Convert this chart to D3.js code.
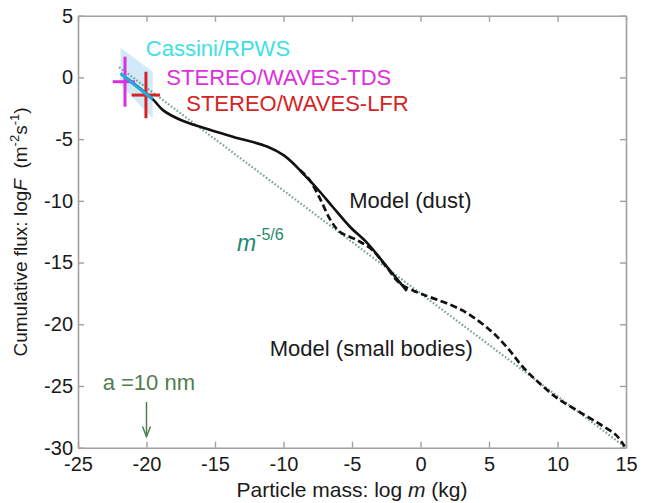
<!DOCTYPE html>
<html>
<head>
<meta charset="utf-8">
<script src="https://cdn.jsdelivr.net/npm/d3@7.9.0/dist/d3.min.js"></script>
<style>
  body { margin: 0; background: #fff; }
  svg { display: block; font-family: "Liberation Sans", Arial, sans-serif; }
</style>
</head>
<body>
<svg id="chart" width="652" height="503"></svg>
<script>
// axis ticks
const xTicks = [-25, -20, -15, -10, -5, 0, 5, 10, 15];
const yTicks = [5, 0, -5, -10, -15, -20, -25, -30];

// m^-5/6 reference line (dotted)
const slopeX = [-22.0, 15.0];
const slopeY = [0.83, -30.0];

// Model (dust), solid
const dustX = [-21.5, -19.6, -18.8, -17.5, -15.8, -13.7, -11.2, -10.0, -9.3, -8.6, -7.55, -6.4, -5.15, -3.9, -2.7, -1.0];
const dustY = [0.0, -1.7, -2.65, -3.45, -4.1, -4.8, -5.6, -6.3, -6.95, -7.76, -9.0, -10.5, -12.1, -13.4, -15.0, -17.3];

// Model (small bodies), dashed
const smallX = [-8.8, -8.1, -7.3, -6.6, -5.9, -4.6, -3.5, -2.45, -1.5, -0.25, 0.7, 3.1, 5.1, 6.3, 7.5, 8.7, 10.0, 11.6, 13.1, 14.3, 14.9];
const smallY = [-7.5, -8.3, -9.9, -11.5, -12.5, -13.2, -14.0, -15.4, -16.7, -17.4, -17.8, -18.9, -20.5, -21.85, -23.5, -24.8, -26.0, -27.1, -28.1, -29.0, -29.9];

// Cassini/RPWS line and its uncertainty band
const cassX = [-21.9, -19.55];
const cassY = [0.32, -1.76];
const bandX = [-21.9, -19.55, -19.55, -21.9];
const bandY = [2.4, 0.45, -3.3, -0.6];

// STEREO crosses: centre and extents
const tds = { x: -21.57, y: -0.35, x0: -22.47, x1: -20.84, y0: -2.37, y1: 1.68 };
const lfr = { x: -20.04, y: -1.43, x0: -21.08, x1: -19.01, y0: -3.31, y1: 0.46 };

const svg = d3.select('#chart');
const margin = { left: 78, right: 26, top: 15.7, bottom: 55.3 };
const W = 652, H = 503;

const x = d3.scaleLinear().domain([-25, 15]).range([margin.left, W - margin.right]);
const y = d3.scaleLinear().domain([-30, 5]).range([H - margin.bottom, margin.top]);

const axisColor = '#a0a0a0';
const fmt = d => String(d);

// axes (MATLAB style box, ticks inside)
function styleAxis(g) {
  g.selectAll('.domain').attr('stroke', axisColor).attr('stroke-width', 1.6);
  g.selectAll('.tick line').attr('stroke', axisColor).attr('stroke-width', 1.4);
  g.selectAll('.tick text').attr('fill', '#1a1a1a').attr('font-size', 20)
    .attr('font-family', '"Liberation Sans", Arial, sans-serif');
}

svg.append('g')
  .attr('transform', `translate(0,${y(-30)})`)
  .call(d3.axisBottom(x).tickValues(xTicks).tickSizeInner(-6).tickSizeOuter(0).tickPadding(9)
    .tickFormat(fmt))
  .call(styleAxis);

svg.append('g')
  .attr('transform', `translate(0,${y(5)})`)
  .call(d3.axisTop(x).tickValues(xTicks).tickSizeInner(-6).tickSizeOuter(0).tickFormat(''))
  .call(styleAxis);

svg.append('g')
  .attr('transform', `translate(${x(-25)},0)`)
  .call(d3.axisLeft(y).tickValues(yTicks).tickSizeInner(-6).tickSizeOuter(0).tickPadding(5)
    .tickFormat(fmt))
  .call(styleAxis);

svg.append('g')
  .attr('transform', `translate(${x(15)},0)`)
  .call(d3.axisRight(y).tickValues(yTicks).tickSizeInner(-6).tickSizeOuter(0).tickFormat(''))
  .call(styleAxis);

// axis titles
const xt = svg.append('text')
  .attr('x', 352).attr('y', 497)
  .attr('text-anchor', 'middle').attr('font-size', 21).attr('fill', '#1a1a1a');
xt.append('tspan').text('Particle mass: log ');
xt.append('tspan').attr('font-style', 'italic').text('m');
xt.append('tspan').text(' (kg)');

const yt = svg.append('text')
  .attr('transform', 'translate(27,232) rotate(-90)')
  .attr('text-anchor', 'middle').attr('font-size', 19).attr('fill', '#1a1a1a');
yt.append('tspan').text('Cumulative flux: log');
yt.append('tspan').attr('font-style', 'italic').text('F');
yt.append('tspan').text('\u00a0 (m');
yt.append('tspan').attr('font-size', 13).attr('dy', -8).text('-2');
yt.append('tspan').attr('dy', 8).text('s');
yt.append('tspan').attr('font-size', 13).attr('dy', -8).text('-1');
yt.append('tspan').attr('dy', 8).text(')');

const line = d3.line().x(d => x(d[0])).y(d => y(d[1]));
const smooth = d3.line().x(d => x(d[0])).y(d => y(d[1])).curve(d3.curveCatmullRom.alpha(0.5));

// uncertainty band
svg.append('path')
  .attr('d', line(d3.zip(bandX, bandY)) + 'Z')
  .attr('fill', '#c6e4f6').attr('fill-opacity', 0.8);

// m^-5/6 dotted
svg.append('path')
  .attr('d', line(d3.zip(slopeX, slopeY)))
  .attr('fill', 'none').attr('stroke', '#7a9e9c').attr('stroke-width', 2.2)
  .attr('stroke-dasharray', '1.6,2');

// small bodies, dashed
svg.append('path')
  .attr('d', smooth(d3.zip(smallX, smallY)))
  .attr('fill', 'none').attr('stroke', '#111').attr('stroke-width', 2.7)
  .attr('stroke-dasharray', '7,3.5');

// dust, solid
svg.append('path')
  .attr('d', smooth(d3.zip(dustX, dustY)))
  .attr('fill', 'none').attr('stroke', '#111').attr('stroke-width', 2.6);

// crosses
function cross(c, color) {
  svg.append('line')
    .attr('x1', x(c.x)).attr('x2', x(c.x)).attr('y1', y(c.y0)).attr('y2', y(c.y1))
    .attr('stroke', color).attr('stroke-width', 3);
  svg.append('line')
    .attr('x1', x(c.x0)).attr('x2', x(c.x1)).attr('y1', y(c.y)).attr('y2', y(c.y))
    .attr('stroke', color).attr('stroke-width', 3);
}
cross(tds, '#dd2fdd');
cross(lfr, '#d42424');

// Cassini line
svg.append('path')
  .attr('d', line(d3.zip(cassX, cassY)))
  .attr('fill', 'none').attr('stroke', '#22a9df').attr('stroke-width', 3.2);

// labels
function label(txt, px, py, color, size) {
  return svg.append('text').attr('x', px).attr('y', py)
    .attr('fill', color).attr('font-size', size).text(txt);
}
label('Cassini/RPWS', x(-20.05), y(1.75), '#3fe0e4', 22);
label('STEREO/WAVES-TDS', x(-18.55), y(-0.6), '#dd2fdd', 22);
label('STEREO/WAVES-LFR', x(-17.1), y(-2.75), '#d42424', 22);
label('Model (dust)', x(-5.2), y(-10.6), '#1a1a1a', 22);
label('Model (small bodies)', x(-11.0), y(-22.6), '#1a1a1a', 22);
label('a =10 nm', x(-23.2), y(-25.3), '#4f7d4f', 22);

const mt = svg.append('text').attr('x', x(-13.4)).attr('y', y(-14.1))
  .attr('fill', '#1f8a6a').attr('font-size', 23);
mt.append('tspan').attr('font-style', 'italic').text('m');
mt.append('tspan').attr('font-size', 16).attr('dy', -11).text('-5/6');

// arrow at a = 10 nm
const arrowX = x(-20);
const aTop = y(-26.3), aTip = y(-29.1);
svg.append('line').attr('x1', arrowX).attr('x2', arrowX).attr('y1', aTop).attr('y2', aTip)
  .attr('stroke', '#4f7d4f').attr('stroke-width', 1.5);
svg.append('path')
  .attr('d', `M${arrowX - 4},${aTip - 10}L${arrowX},${aTip}L${arrowX + 4},${aTip - 10}`)
  .attr('fill', 'none').attr('stroke', '#4f7d4f').attr('stroke-width', 1.5);
</script>
</body>
</html>
